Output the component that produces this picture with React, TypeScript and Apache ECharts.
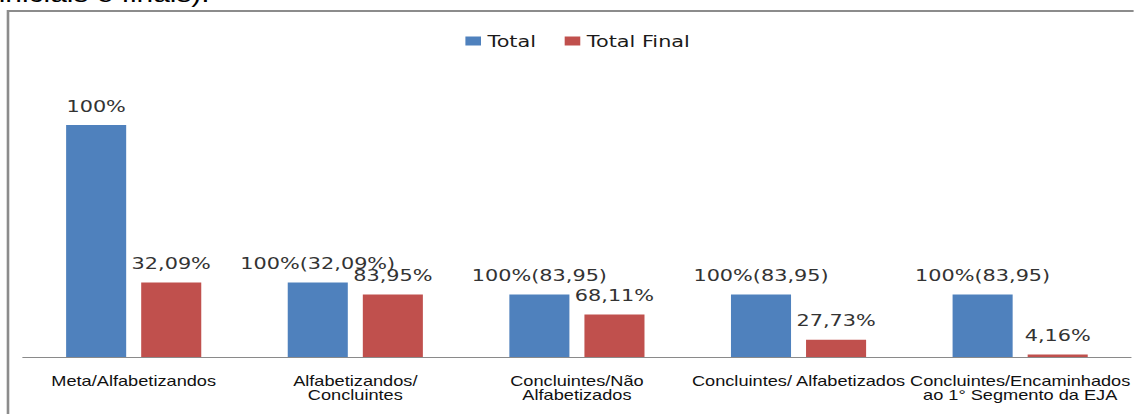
import React, { useEffect, useRef } from "react";
import * as echarts from "echarts";

const categories = [
  "Meta/Alfabetizandos",
  "Alfabetizandos/\nConcluintes",
  "Concluintes/Não\nAlfabetizados",
  "Concluintes/ Alfabetizados",
  "Concluintes/Encaminhados\nao 1° Segmento da EJA",
];
const seriesNames = ["Total", "Total Final"];
const totalValues = [100, 32.09, 26.94, 26.94, 26.94];
const totalFinalValues = [32.09, 26.94, 18.35, 7.47, 1.12];
const totalLabels = ["100%", "100%(32,09%)", "100%(83,95)", "100%(83,95)", "100%(83,95)"];
const totalFinalLabels = ["32,09%", "83,95%", "68,11%", "27,73%", "4,16%"];
const headerText = "iniciais e finais).";

const SX = 1.3;
const W = 1134 / SX;
const H = 414;

export default function App() {
  const ref = useRef<HTMLDivElement>(null);
  useEffect(() => {
    if (!ref.current) return;
    const chart = echarts.init(ref.current, null, { renderer: "svg" });
    const labelStyle = {
      show: true,
      position: "top" as const,
      distance: 11,
      fontFamily: "DejaVu Sans",
      fontSize: 16,
      color: "#333333",
    };
    chart.setOption({
      animation: false,
      backgroundColor: "#ffffff",
      legend: {
        data: seriesNames,
        left: 353,
        top: 28,
        itemWidth: 12,
        itemHeight: 9,
        itemGap: 22,
        icon: "rect",
        textStyle: { fontFamily: "DejaVu Sans", fontSize: 16, color: "#1a1a1a" },
      },
      grid: { left: 17.6, top: 125, width: 858, height: 232, containLabel: false },
      xAxis: {
        type: "category",
        data: categories,
        axisLine: { show: true, lineStyle: { color: "#8a8a8a", width: 1 } },
        axisTick: { show: false },
        axisLabel: {
          interval: 0,
          margin: 17,
          fontFamily: "Liberation Sans",
          fontSize: 14,
          lineHeight: 14,
          color: "#111111",
        },
      },
      yAxis: {
        type: "value",
        min: 0,
        max: 100,
        show: false,
        splitLine: { show: false },
      },
      series: [
        {
          name: seriesNames[0],
          type: "bar",
          data: totalValues,
          barWidth: 46.2,
          barGap: "25%",
          itemStyle: { color: "#4F81BD" },
          label: { ...labelStyle, formatter: (p: any) => totalLabels[p.dataIndex] },
        },
        {
          name: seriesNames[1],
          type: "bar",
          data: totalFinalValues,
          barWidth: 46.2,
          barGap: "25%",
          itemStyle: { color: "#C0504D" },
          label: { ...labelStyle, formatter: (p: any) => totalFinalLabels[p.dataIndex] },
        },
      ],
      graphic: [
        {
          type: "rect",
          silent: true,
          z: -1,
          shape: { x: 6.15, y: 11, width: 2000, height: 1000 },
          style: { fill: "none", stroke: "#8c8c8c", lineWidth: 2 },
        },
        {
          type: "text",
          silent: true,
          x: -1,
          y: 6,
          style: {
            text: headerText,
            fontFamily: "Liberation Sans",
            fontSize: 23,
            fill: "#000000",
            textVerticalAlign: "bottom",
            verticalAlign: "alphabetic",
          },
        },
      ],
    });
    return () => chart.dispose();
  }, []);
  return (
    <div
      ref={ref}
      style={{
        position: "absolute",
        left: 0,
        top: 0,
        width: W,
        height: H,
        transform: `scaleX(${SX})`,
        transformOrigin: "0 0",
      }}
    />
  );
}
